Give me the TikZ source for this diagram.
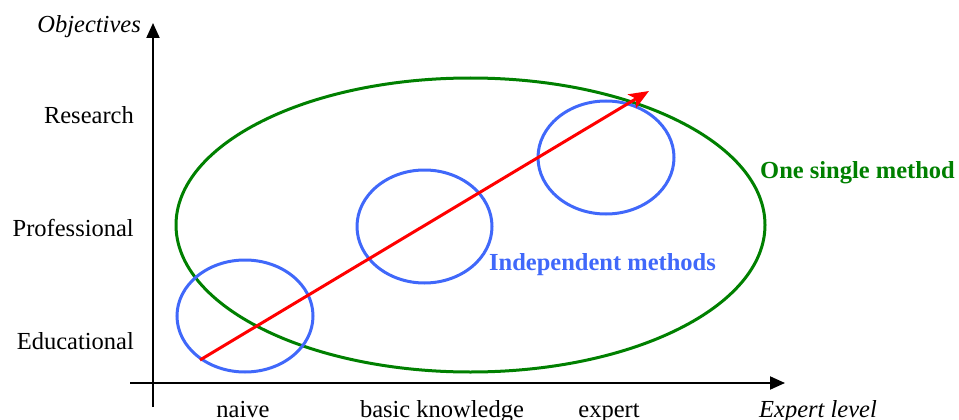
\documentclass[tikz,border=0pt]{standalone}
\usepackage{fontspec}
\setmainfont{Liberation Serif}
\usetikzlibrary{arrows.meta}
\definecolor{cgreen}{RGB}{0,128,0}
\definecolor{cblue}{RGB}{64,104,250}
\begin{document}
\begin{tikzpicture}[x=1pt,y=-1pt,
  lbl/.style={inner sep=0pt,font=\fontsize{24.5}{28}\selectfont},
  axis/.style={line width=2pt,black,-{Triangle[length=15pt,width=13pt]}},
  group/.style={line width=3pt,cblue},
  whole/.style={line width=3pt,cgreen},
  trend/.style={line width=3pt,red,-{Stealth[length=20pt,width=16pt,inset=5pt]}}]
\useasboundingbox (0,0) rectangle (959,420);
% axes
\coordinate (yb) at (153,407);
\coordinate (yt) at (153,23);
\coordinate (xl) at (130,383);
\coordinate (xr) at (785,383);
\draw[axis] (yb) -- (yt);
\draw[axis] (xl) -- (xr);
% ellipses
\draw[whole] (470.5,225) ellipse [x radius=294.5, y radius=147];
\draw[group] (245,316) ellipse [x radius=68, y radius=56];
\draw[group] (424.5,226.5) ellipse [x radius=67.5, y radius=56.5];
\draw[group] (606,157.5) ellipse [x radius=68, y radius=56.5];
% trend arrow
\coordinate (ts) at (200,360);
\coordinate (te) at (649,91);
\draw[trend] (ts) -- (te);
% labels
\node[lbl,anchor=base east,font=\fontsize{24.5}{28}\selectfont\itshape] (obj) at (141,33) {Objectives};
\node[lbl,anchor=base east] (res) at (134,123) {Research};
\node[lbl,anchor=base east] (pro) at (134,236) {Professional};
\node[lbl,anchor=base east] (edu) at (134,349) {Educational};
\node[lbl,anchor=base] (nai) at (243,417) {naive};
\node[lbl,anchor=base] (bas) at (442,417) {basic knowledge};
\node[lbl,anchor=base] (exp) at (609,417) {expert};
\node[lbl,anchor=base,font=\fontsize{24.5}{28}\selectfont\itshape] (lev) at (818,417) {Expert level};
\node[lbl,anchor=base west,text=cgreen,font=\fontsize{24.5}{28}\selectfont\bfseries] (one) at (760,178) {One single method};
\node[lbl,anchor=base west,text=cblue,font=\fontsize{24.5}{28}\selectfont\bfseries] (ind) at (489,270) {Independent methods};
\end{tikzpicture}
\end{document}
